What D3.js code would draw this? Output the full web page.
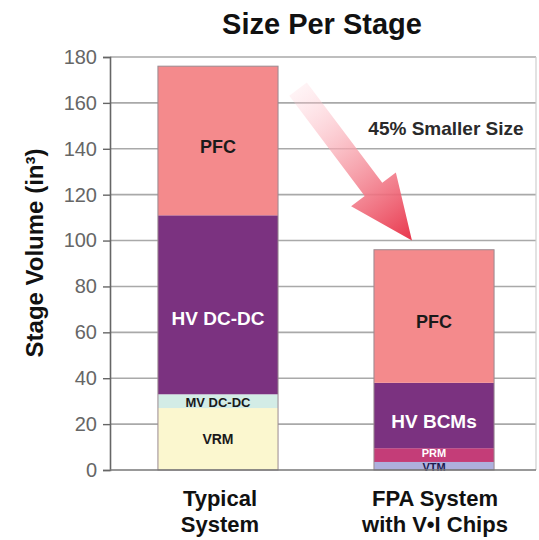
<!DOCTYPE html>
<html>
<head>
<meta charset="utf-8">
<script src="https://cdn.jsdelivr.net/npm/d3@7"></script>
<style>
  html, body { margin: 0; padding: 0; background: #fff; }
  svg { display: block; font-family: "Liberation Sans", Arial, sans-serif; }
</style>
</head>
<body>
<svg id="chart" width="539" height="540"></svg>
<script>
// ---- data ----
const categories = ["Typical System", "FPA System with V•I Chips"];
const categoryLines = [["Typical", "System"], ["FPA System", "with V•I Chips"]];
const typicalStages = ["VRM", "MV DC-DC", "HV DC-DC", "PFC"];
const typicalValues = [27, 6, 78, 65];
const fpaStages = ["VTM", "PRM", "HV BCMs", "PFC"];
const fpaValues = [3.5, 6, 28.5, 58];
const yTicks = [0, 20, 40, 60, 80, 100, 120, 140, 160, 180];
const title = "Size Per Stage";
const yLabel = "Stage Volume (in³)";
const annotation = "45% Smaller Size";

// ---- styles ----
const stageStyle = {
  "PFC": { fill: "#f48a8c", text: "#1a1a1a", size: 18, dy: 6 },
  "HV DC-DC": { fill: "#7b3280", text: "#ffffff", size: 19, dy: 14 },
  "MV DC-DC": { fill: "#d3ece6", text: "#1a1a1a", size: 13, dy: 1 },
  "VRM": { fill: "#fbf7cf", text: "#1a1a1a", size: 14, dy: 0 },
  "HV BCMs": { fill: "#7b3280", text: "#ffffff", size: 19, dy: 6 },
  "PRM": { fill: "#c43d78", text: "#ffffff", size: 11, dy: -2 },
  "VTM": { fill: "#aeb0de", text: "#1c1c50", size: 11, dy: 1 }
};

const svg = d3.select("#chart");
const plotL = 110, plotR = 536, plotT = 57, plotB = 470;

const x = d3.scaleBand().domain(categories).range([113, 539]).paddingInner(0.444).paddingOuter(0.208);
const y = d3.scaleLinear().domain([0, 180]).range([plotB, plotT]);

// gridlines
svg.append("g").selectAll("line").data(yTicks.filter(d => d > 0)).join("line")
  .attr("x1", plotL).attr("x2", plotR)
  .attr("y1", d => y(d)).attr("y2", d => y(d))
  .attr("stroke", "#a9a9a9").attr("stroke-width", 1.6);
// right frame
svg.append("line").attr("x1", plotR).attr("x2", plotR).attr("y1", plotT).attr("y2", plotB)
  .attr("stroke", "#cfcfcf").attr("stroke-width", 1.2);

// stacked data
function stackSegments(stages, values) {
  let acc = 0;
  return stages.map((s, i) => { const y0 = acc; acc += values[i]; return { stage: s, y0, y1: acc }; });
}
const groups = [
  { cat: categories[0], segs: stackSegments(typicalStages, typicalValues) },
  { cat: categories[1], segs: stackSegments(fpaStages, fpaValues) }
];

groups.forEach(g => {
  const gg = svg.append("g");
  const total = d3.sum(g.segs, d => d.y1 - d.y0);
  gg.selectAll("rect").data(g.segs).join("rect")
    .attr("x", x(g.cat)).attr("width", x.bandwidth())
    .attr("y", d => y(d.y1)).attr("height", d => y(d.y0) - y(d.y1))
    .attr("fill", d => stageStyle[d.stage].fill);
  gg.append("rect")
    .attr("x", x(g.cat)).attr("width", x.bandwidth())
    .attr("y", y(total)).attr("height", y(0) - y(total))
    .attr("fill", "none").attr("stroke", "#9a8a90").attr("stroke-width", 1);
  gg.selectAll("text").data(g.segs).join("text")
    .attr("x", x(g.cat) + x.bandwidth() / 2)
    .attr("y", d => (y(d.y0) + y(d.y1)) / 2 + stageStyle[d.stage].dy)
    .attr("text-anchor", "middle").attr("dominant-baseline", "central")
    .attr("font-weight", "bold")
    .attr("font-size", d => stageStyle[d.stage].size)
    .attr("fill", d => stageStyle[d.stage].text)
    .text(d => d.stage);
});

// axis
const yAxis = d3.axisLeft(y).tickValues(yTicks).tickSize(7).tickPadding(6);
const ax = svg.append("g").attr("transform", `translate(${plotL},0)`).call(yAxis);
ax.select(".domain").attr("stroke", "#666").attr("stroke-width", 1.6);
ax.selectAll(".tick line").attr("stroke", "#666").attr("stroke-width", 1.4);
ax.selectAll(".tick text").attr("font-size", 20).attr("fill", "#666")
  .attr("font-family", "'Liberation Sans', Arial, sans-serif");
// bottom line
svg.append("line").attr("x1", plotL).attr("x2", plotR).attr("y1", plotB).attr("y2", plotB)
  .attr("stroke", "#777").attr("stroke-width", 1.6);

// title
svg.append("text").attr("x", 322).attr("y", 34).attr("text-anchor", "middle")
  .attr("font-size", 29).attr("font-weight", "bold").attr("fill", "#111").text(title);

// y label
svg.append("text").attr("transform", "translate(43,253) rotate(-90)")
  .attr("text-anchor", "middle").attr("font-size", 24).attr("font-weight", "bold").attr("fill", "#111")
  .text(yLabel);

// category labels
categories.forEach((c, i) => {
  const t = svg.append("text").attr("text-anchor", "middle")
    .attr("font-size", 22).attr("font-weight", "bold").attr("fill", "#111");
  categoryLines[i].forEach((ln, j) => {
    t.append("tspan").attr("x", x(c) + x.bandwidth() / 2 + (i === 0 ? 2 : 1)).attr("y", 506 + j * 26).text(ln);
  });
});

// arrow
const defs = svg.append("defs");
const grad = defs.append("linearGradient").attr("id", "arrowGrad")
  .attr("x1", "0%").attr("x2", "100%").attr("y1", "0%").attr("y2", "0%");
grad.append("stop").attr("offset", "0%").attr("stop-color", "#ffd0d8").attr("stop-opacity", 0.25);
grad.append("stop").attr("offset", "45%").attr("stop-color", "#f7a0aa").attr("stop-opacity", 0.8);
grad.append("stop").attr("offset", "100%").attr("stop-color", "#e8354b").attr("stop-opacity", 1);

const x0 = x(categories[0]) + x.bandwidth() + 20, y0a = y(166);
const x1 = x(categories[1]) + 38, y1a = y(100);
const len = Math.hypot(x1 - x0, y1a - y0a);
const ang = Math.atan2(y1a - y0a, x1 - x0) * 180 / Math.PI;
const sw = 11, hw = 28, hl = 64;
const pts = [[0, -sw], [len - hl, -sw], [len - hl, -hw], [len, 0], [len - hl, hw], [len - hl, sw], [0, sw]];
svg.append("polygon")
  .attr("points", pts.map(p => p.join(",")).join(" "))
  .attr("transform", `translate(${x0},${y0a}) rotate(${ang})`)
  .attr("fill", "url(#arrowGrad)");

// annotation
svg.append("text").attr("x", 446).attr("y", 135).attr("text-anchor", "middle")
  .attr("font-size", 19).attr("font-weight", "bold").attr("fill", "#2a2a2a").text(annotation);
</script>
</body>
</html>
